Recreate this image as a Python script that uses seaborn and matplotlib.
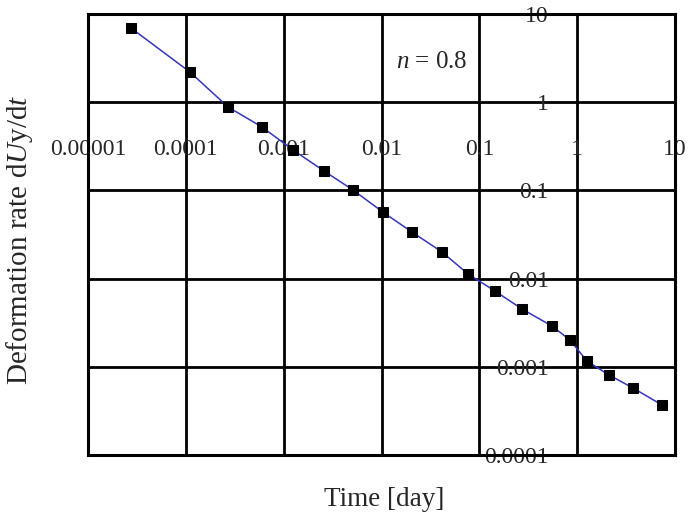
import matplotlib
matplotlib.use("Agg")
import matplotlib.pyplot as plt
import seaborn as sns
import pandas as pd

# ---- data ----
time_day = [2.75e-5, 1.10e-4, 2.70e-4, 6.0e-4, 1.25e-3, 2.58e-3, 5.12e-3,
            0.0103, 0.0205, 0.0416, 0.0766, 0.1445, 0.273, 0.553, 0.845,
            1.26, 2.12, 3.72, 7.37]
deform_rate = [6.94, 2.20, 0.883, 0.523, 0.287, 0.166, 0.101,
               0.0569, 0.0337, 0.0200, 0.01128, 0.00723, 0.00452, 0.00290,
               0.00201, 0.00116, 0.000807, 0.000575, 0.000369]

x_ticks = [1e-5, 1e-4, 1e-3, 1e-2, 1e-1, 1, 10]
x_tick_labels = ["0.00001", "0.0001", "0.001", "0.01", "0.1", "1", "10"]
y_ticks = [1e-4, 1e-3, 1e-2, 1e-1, 1, 10]
y_tick_labels = ["0.0001", "0.001", "0.01", "0.1", "1", "10"]

x_label = "Time [day]"
y_label = "Deformation rate d$U$y/d$t$"
note = "$n$ = 0.8"

df = pd.DataFrame({"time": time_day, "rate": deform_rate})

sns.set_style("white")
plt.rcParams["font.family"] = ["Liberation Serif", "DejaVu Serif"]
plt.rcParams["mathtext.fontset"] = "custom"
plt.rcParams["mathtext.rm"] = "Liberation Serif"
plt.rcParams["mathtext.it"] = "Liberation Serif:italic"

fig = plt.figure(figsize=(6.98, 5.17), dpi=100)
ax = fig.add_axes([88 / 698, 1 - 455 / 517, (675 - 88) / 698, (455 - 14) / 517])

sns.lineplot(data=df, x="time", y="rate", ax=ax, color="#3434c0",
             linewidth=1.1, marker="s", markersize=7.5,
             markerfacecolor="black", markeredgecolor="black", zorder=3)

ax.set_xscale("log")
ax.set_yscale("log")
ax.set_xlim(1e-5, 10)
ax.set_ylim(1e-4, 10)
ax.set_xticks(x_ticks)
ax.set_xticklabels(x_tick_labels)
ax.set_yticks(y_ticks)
ax.set_yticklabels(y_tick_labels)
ax.minorticks_off()

ax.grid(True, which="major", color="black", linewidth=2.0)
ax.set_axisbelow(True)
for s in ax.spines.values():
    s.set_visible(True)
    s.set_color("black")
    s.set_linewidth(2.2)

# tick labels sit inside the plot (axes-crossing style of the original)
ax.tick_params(axis="x", length=0, labelsize=17, pad=-(455 - 139) * 0.72)
ax.tick_params(axis="y", length=0, labelsize=17, pad=-(549 - 88) * 0.72)

ax.set_xlabel(x_label, fontsize=19.5)
ax.xaxis.set_label_coords(0.504, -0.072)
ax.set_ylabel(y_label, fontsize=21)
ax.yaxis.set_label_coords(-0.09, 0.487)

ax.text(0.586, 0.891, note, transform=ax.transAxes, fontsize=18,
        ha="center", va="center")

fig.savefig("out.png", dpi=100)
